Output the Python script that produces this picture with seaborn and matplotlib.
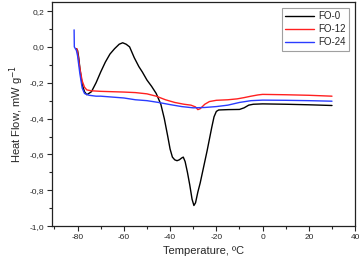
import numpy as np
import pandas as pd
import matplotlib
matplotlib.use("Agg")
import matplotlib.pyplot as plt
import seaborn as sns
from matplotlib.ticker import MultipleLocator, FuncFormatter

# FO-0 (black)
fo0_t = [-80.5, -80.0, -79.5, -79.0, -78.0, -77.0, -76.0, -74.0, -72.0, -70.0, -68.0, -66.0, -64.0,
         -62.0, -60.5, -59.0, -57.5, -55.5, -53.5, -52.0, -50.0, -48.0, -46.0, -44.0, -42.5,
         -41.0, -40.0, -39.0, -38.0, -37.0, -36.0, -35.0, -34.3, -33.5, -32.5, -31.5, -30.5,
         -29.7, -29.0, -28.0, -27.0, -26.0, -24.0, -22.0, -21.0, -20.0, -19.0, -15.0, -10.0,
         -8.0, -6.0, -4.0, 0.0, 10.0, 20.0, 30.0]
fo0_h = [-0.01, -0.02, -0.06, -0.12, -0.21, -0.25, -0.267, -0.25, -0.20, -0.14, -0.085, -0.04, -0.01,
         0.015, 0.023, 0.015, 0.0, -0.06, -0.11, -0.14, -0.185, -0.22, -0.26, -0.32, -0.40,
         -0.50, -0.57, -0.615, -0.63, -0.635, -0.63, -0.62, -0.615, -0.64, -0.70, -0.77, -0.85,
         -0.885, -0.87, -0.81, -0.76, -0.70, -0.58, -0.45, -0.39, -0.36, -0.352, -0.35, -0.349,
         -0.34, -0.325, -0.32, -0.318, -0.32, -0.323, -0.327]

# FO-12 (red)
fo12_t = [-80.3, -80.0, -79.0, -78.0, -77.0, -76.0, -74.0, -70.0, -65.0, -60.0, -55.0, -50.0, -46.0,
          -42.0, -38.0, -34.0, -31.0, -29.0, -28.0, -27.0, -25.0, -23.0, -20.0, -15.0, -11.0,
          -8.0, -5.0, -2.0, 0.0, 10.0, 20.0, 30.0]
fo12_h = [-0.01, -0.03, -0.12, -0.19, -0.225, -0.24, -0.245, -0.248, -0.25, -0.252, -0.255, -0.262,
          -0.275, -0.295, -0.31, -0.32, -0.325, -0.335, -0.35, -0.345, -0.32, -0.305, -0.298,
          -0.295, -0.29, -0.283, -0.275, -0.268, -0.265, -0.267, -0.27, -0.275]

# FO-24 (blue)
fo24_t = [-81.5, -81.4, -80.5, -80.0, -79.0, -78.0, -77.0, -75.0, -72.0, -70.0, -65.0, -60.0, -55.0,
          -50.0, -45.0, -40.0, -35.0, -30.0, -25.0, -20.0, -15.0, -10.0, -5.0, 0.0, 10.0, 20.0, 30.0]
fo24_h = [0.095, 0.0, -0.02, -0.05, -0.15, -0.23, -0.26, -0.27, -0.275, -0.275, -0.28, -0.285, -0.295,
          -0.30, -0.31, -0.322, -0.333, -0.34, -0.338, -0.333, -0.325, -0.31, -0.30, -0.297, -0.298,
          -0.30, -0.303]

series = ["FO-0", "FO-12", "FO-24"]
colors = ["#000000", "#ff2020", "#2a3cff"]

df = pd.concat([
    pd.DataFrame({"T": fo0_t, "H": fo0_h, "s": series[0]}),
    pd.DataFrame({"T": fo12_t, "H": fo12_h, "s": series[1]}),
    pd.DataFrame({"T": fo24_t, "H": fo24_h, "s": series[2]}),
], ignore_index=True)

sns.set_style("ticks")
plt.rcParams['font.family'] = ['Liberation Sans', 'DejaVu Sans']

fig = plt.figure(figsize=(3.62, 2.62), dpi=100)
ax = fig.add_axes([0.144, 0.137, 0.837, 0.855])

sns.lineplot(data=df, x="T", y="H", hue="s", palette=dict(zip(series, colors)),
             sort=False, estimator=None, units="s", linewidth=1.0, ax=ax)

ax.set_xlim(-91, 40)
ax.set_ylim(-1.0, 0.25)
ax.xaxis.set_major_locator(MultipleLocator(20))
ax.xaxis.set_minor_locator(MultipleLocator(10))
ax.yaxis.set_major_locator(MultipleLocator(0.2))
ax.yaxis.set_minor_locator(MultipleLocator(0.1))
ax.xaxis.set_major_formatter(FuncFormatter(lambda v, p: f"{v:.0f}"))
ax.yaxis.set_major_formatter(FuncFormatter(lambda v, p: f"{v:.1f}".replace(".", ",").replace("-0,0", "0,0")))
ax.tick_params(axis="both", which="major", direction="out", length=3.5, width=0.8, labelsize=6, pad=2)
ax.tick_params(axis="both", which="minor", direction="out", length=2, width=0.8)
for sp in ax.spines.values():
    sp.set_linewidth(0.9)
    sp.set_color("#222222")

ax.set_xlabel("Temperature, ºC", fontsize=8, labelpad=4)
ax.set_ylabel("Heat Flow, mW g$^{-1}$", fontsize=8, labelpad=3)

leg = ax.legend(loc="upper right", fontsize=7, frameon=True, fancybox=False,
                borderaxespad=0.6, handlelength=3.0, handletextpad=0.4,
                labelspacing=0.3, borderpad=0.35)
leg.get_frame().set_edgecolor("#888888")
leg.get_frame().set_linewidth(0.8)
leg.set_title(None)

fig.savefig("out.png", dpi=100)
